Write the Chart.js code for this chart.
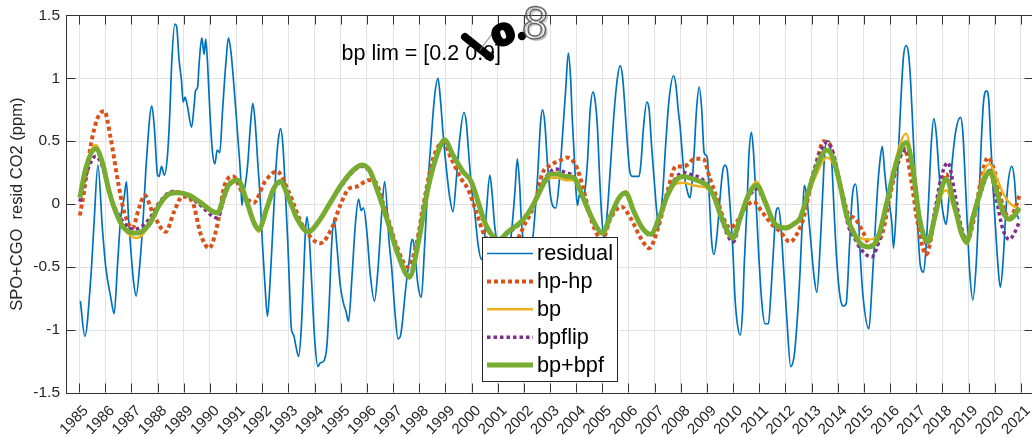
<!DOCTYPE html>
<html><head><meta charset="utf-8">
<script src="https://cdn.jsdelivr.net/npm/chart.js@4.4.0/dist/chart.umd.min.js"></script>
<style>
html,body{margin:0;padding:0;overflow:hidden;background:#fff;width:1032px;height:437px}
#wrap{position:absolute;left:0;top:0;width:1045px;height:437px}
</style>
</head><body><div id="wrap"><canvas id="c" width="1045" height="437"></canvas></div>
<script>
const seriesNames = ['residual', 'hp-hp', 'bp', 'bpflip', 'bp+bpf'];
const yearTicks = [1985,1986,1987,1988,1989,1990,1991,1992,1993,1994,1995,1996,1997,1998,1999,2000,2001,2002,2003,2004,2005,2006,2007,2008,2009,2010,2011,2012,2013,2014,2015,2016,2017,2018,2019,2020,2021];
const yTicks = [-1.5, -1, -0.5, 0, 0.5, 1, 1.5];
const annotationText = 'bp lim = [0.2 0.9]';
const yTitle = 'SPO+CGO  resid CO2 (ppm)';

const resYears = [1985.05,1985.22,1985.45,1985.57,1985.72,1985.89,1986.02,1986.21,1986.34,1986.47,1986.59,1986.72,1986.81,1986.89,1986.98,1987.08,1987.18,1987.32,1987.45,1987.57,1987.78,1987.88,1988.00,1988.06,1988.15,1988.26,1988.38,1988.47,1988.54,1988.66,1988.73,1988.82,1988.91,1988.98,1989.05,1989.14,1989.30,1989.40,1989.45,1989.53,1989.59,1989.69,1989.78,1989.84,1989.91,1990.00,1990.10,1990.19,1990.28,1990.38,1990.48,1990.61,1990.71,1990.81,1990.90,1990.99,1991.09,1991.18,1991.22,1991.29,1991.35,1991.45,1991.54,1991.64,1991.73,1991.83,1991.92,1992.01,1992.11,1992.20,1992.31,1992.40,1992.47,1992.56,1992.62,1992.70,1992.79,1992.88,1992.97,1993.04,1993.11,1993.20,1993.29,1993.39,1993.49,1993.58,1993.65,1993.71,1993.80,1993.90,1994.00,1994.13,1994.22,1994.34,1994.47,1994.56,1994.66,1994.75,1994.85,1994.98,1995.11,1995.20,1995.30,1995.43,1995.56,1995.68,1995.78,1995.87,1996.00,1996.13,1996.29,1996.42,1996.57,1996.68,1996.85,1996.95,1997.07,1997.19,1997.30,1997.50,1997.63,1997.70,1997.75,1997.83,1997.95,1998.08,1998.21,1998.33,1998.46,1998.59,1998.72,1998.82,1998.91,1999.04,1999.17,1999.29,1999.42,1999.55,1999.71,1999.80,1999.89,1999.99,2000.12,2000.25,2000.38,2000.48,2000.57,2000.70,2000.78,2000.88,2000.95,2001.15,2001.35,2001.53,2001.66,2001.75,2001.84,2001.90,2002.10,2002.30,2002.52,2002.64,2002.71,2002.80,2002.90,2003.03,2003.22,2003.34,2003.47,2003.60,2003.70,2003.79,2003.85,2003.92,2003.98,2004.05,2004.13,2004.20,2004.30,2004.43,2004.53,2004.64,2004.72,2004.81,2004.90,2004.98,2005.07,2005.19,2005.32,2005.45,2005.57,2005.68,2005.77,2005.86,2005.96,2006.05,2006.15,2006.28,2006.40,2006.47,2006.57,2006.70,2006.79,2006.88,2006.98,2007.08,2007.15,2007.30,2007.42,2007.55,2007.72,2007.81,2007.90,2007.97,2008.12,2008.25,2008.35,2008.44,2008.51,2008.60,2008.70,2008.80,2008.89,2008.95,2009.02,2009.09,2009.18,2009.27,2009.37,2009.50,2009.60,2009.69,2009.78,2009.88,2009.99,2010.07,2010.16,2010.27,2010.36,2010.43,2010.52,2010.61,2010.70,2010.78,2010.87,2010.97,2011.10,2011.22,2011.35,2011.44,2011.54,2011.64,2011.73,2011.82,2011.92,2012.05,2012.20,2012.33,2012.43,2012.56,2012.66,2012.72,2012.80,2012.95,2013.08,2013.20,2013.33,2013.42,2013.50,2013.58,2013.67,2013.77,2013.86,2013.96,2014.09,2014.22,2014.32,2014.45,2014.55,2014.68,2014.77,2014.85,2014.96,2015.19,2015.31,2015.44,2015.53,2015.62,2015.70,2015.79,2015.87,2015.98,2016.07,2016.13,2016.23,2016.33,2016.42,2016.51,2016.61,2016.70,2016.78,2016.87,2016.96,2017.06,2017.15,2017.28,2017.38,2017.48,2017.57,2017.67,2017.76,2017.86,2017.95,2018.04,2018.14,2018.25,2018.37,2018.50,2018.69,2018.78,2018.87,2018.95,2019.04,2019.16,2019.29,2019.39,2019.48,2019.57,2019.68,2019.77,2019.84,2019.93,2020.03,2020.12,2020.21,2020.31,2020.41,2020.50,2020.65,2020.75,2020.84,2020.92];
const resVals = [-0.77,-1.05,-0.58,-0.16,0.31,-0.19,-0.50,-0.74,-0.87,-0.48,-0.11,0.05,0.18,-0.11,-0.37,-0.61,-0.73,-0.48,-0.11,0.33,0.78,0.60,0.23,0.22,0.30,0.23,0.39,0.73,1.12,1.43,1.41,1.15,0.99,0.81,0.85,0.78,0.61,0.79,0.90,0.93,1.12,1.32,1.19,1.31,1.12,0.73,0.41,0.32,0.43,0.41,0.73,1.12,1.32,1.20,0.99,0.75,0.47,0.20,-0.01,0.10,0.15,0.33,0.60,0.80,0.65,0.33,0.05,-0.32,-0.66,-0.89,-0.58,-0.22,0.07,0.39,0.52,0.60,0.47,0.12,-0.27,-0.64,-0.98,-1.04,-1.13,-1.21,-1.00,-0.58,-0.22,-0.10,-0.27,-0.66,-1.06,-1.29,-1.26,-1.25,-1.13,-0.79,-0.30,-0.12,-0.32,-0.64,-0.79,-0.85,-0.93,-0.58,-0.16,0.04,-0.05,-0.03,-0.22,-0.56,-0.77,-0.53,-0.06,0.18,-0.30,-0.51,-0.85,-1.07,-1.03,-0.64,-0.43,-0.30,-0.28,-0.37,-0.64,-0.74,-0.32,0.15,0.52,0.86,1.00,0.81,0.57,0.28,0.05,-0.06,0.20,0.52,0.73,0.65,0.41,0.15,-0.06,-0.32,-0.44,-0.32,-0.06,0.23,0.10,-0.16,-0.27,-0.55,-0.50,-0.22,0.10,0.36,0.15,-0.11,-0.45,-0.35,0.20,0.65,0.75,0.65,0.33,0.05,-0.03,0.15,0.52,0.91,1.20,0.99,0.68,0.41,0.15,-0.01,0.08,0.05,0.07,0.33,0.73,0.89,0.83,0.62,0.20,-0.11,-0.27,-0.06,0.33,0.73,0.99,1.10,1.02,0.78,0.47,0.26,0.22,0.22,0.22,0.31,0.60,0.81,0.75,0.47,0.20,-0.06,-0.18,0.07,0.47,0.83,1.02,0.95,0.75,0.62,0.25,0.10,0.05,0.20,0.41,0.75,0.93,0.75,0.41,0.39,0.36,0.05,-0.30,-0.40,-0.27,0.05,0.26,0.31,0.26,-0.01,-0.37,-0.74,-0.95,-1.04,-0.85,-0.45,-0.06,0.41,0.57,0.41,0.05,-0.37,-0.79,-0.95,-0.95,-0.72,-0.37,-0.06,-0.03,-0.16,-0.48,-0.90,-1.29,-1.21,-0.98,-0.53,-0.06,0.15,0.08,-0.25,-0.55,-0.70,-0.32,0.07,0.41,0.50,0.50,0.33,-0.06,-0.45,-0.74,-0.81,-0.79,-0.32,0.05,0.16,-0.01,-0.37,-0.72,-0.99,-0.64,-0.16,0.15,0.36,0.46,0.26,0.10,-0.01,-0.16,-0.35,-0.06,0.47,0.86,1.17,1.26,1.20,0.99,0.60,0.20,-0.19,-0.48,-0.54,-0.32,0.07,0.47,0.68,0.57,0.28,0.05,-0.09,-0.16,0.05,0.33,0.57,0.69,0.57,0.20,-0.16,-0.53,-0.76,-0.48,-0.01,0.47,0.81,0.90,0.83,0.52,0.15,-0.19,-0.48,-0.66,-0.48,-0.11,0.15,0.30,0.20,-0.06,-0.12];

const hpYears = [1985.03,1985.19,1985.45,1985.70,1985.96,1986.21,1986.47,1986.72,1987.04,1987.29,1987.51,1987.80,1988.31,1988.63,1988.95,1989.33,1989.65,1989.97,1990.29,1990.55,1990.90,1991.22,1991.67,1992.11,1992.56,1993.01,1993.52,1994.22,1994.66,1994.98,1995.30,1995.62,1996.07,1996.35,1996.60,1996.80,1997.12,1997.57,1997.89,1998.21,1998.53,1998.91,1999.23,1999.61,1999.86,2000.18,2000.44,2000.75,2001.10,2001.50,2001.78,2002.03,2002.29,2002.54,2002.70,2003.03,2003.41,2003.66,2003.98,2004.24,2004.49,2004.75,2005.00,2005.32,2005.73,2006.08,2006.47,2006.79,2007.17,2007.49,2007.81,2008.12,2008.55,2008.85,2009.12,2009.37,2009.63,2009.88,2010.14,2010.46,2010.78,2011.10,2011.48,2011.80,2012.18,2012.43,2012.69,2012.94,2013.26,2013.45,2013.71,2013.96,2014.22,2014.40,2014.64,2014.96,2015.21,2015.40,2015.72,2015.98,2016.23,2016.55,2016.80,2017.06,2017.38,2017.70,2017.96,2018.14,2018.40,2018.72,2018.93,2019.23,2019.48,2019.74,2019.99,2020.31,2020.56,2020.82,2020.94];
const hpVals = [-0.09,0.10,0.47,0.68,0.74,0.52,0.20,-0.06,-0.19,-0.03,0.07,-0.06,-0.22,-0.06,0.06,0.02,-0.24,-0.35,-0.16,0.14,0.22,0.10,0.01,0.18,0.26,0.10,-0.16,-0.31,-0.19,-0.01,0.12,0.14,0.19,0.17,0.02,-0.11,-0.32,-0.50,-0.32,0.05,0.36,0.49,0.36,0.20,0.12,-0.06,-0.22,-0.33,-0.35,-0.32,-0.27,-0.16,-0.06,0.10,0.24,0.31,0.35,0.37,0.31,0.15,-0.06,-0.22,-0.28,-0.11,-0.02,-0.11,-0.27,-0.35,-0.16,0.10,0.30,0.30,0.36,0.36,0.20,0.05,-0.11,-0.19,-0.14,-0.03,0.02,-0.06,-0.16,-0.22,-0.30,-0.24,-0.11,0.12,0.39,0.50,0.47,0.26,0.05,-0.08,-0.11,-0.22,-0.32,-0.33,-0.22,0.05,0.28,0.44,0.20,-0.16,-0.40,-0.11,0.15,0.24,0.05,-0.19,-0.30,-0.09,0.20,0.37,0.26,-0.01,-0.11,-0.01,0.07];

const bpYears = [1985.03,1985.25,1985.64,1985.89,1986.15,1986.40,1986.72,1987.20,1987.68,1988.06,1988.44,1988.76,1989.21,1989.59,1990.29,1990.55,1990.71,1991.07,1991.41,1991.67,1991.86,1992.18,1992.43,1992.69,1993.01,1993.32,1993.77,1994.15,1994.54,1994.98,1995.43,1995.81,1996.13,1996.38,1996.80,1997.19,1997.63,1997.95,1998.33,1998.71,1998.97,1999.29,1999.67,1999.99,2000.25,2000.50,2000.80,2001.05,2001.39,2001.78,2002.03,2002.29,2002.54,2002.75,2003.03,2003.28,2003.60,2003.92,2004.17,2004.49,2004.81,2005.00,2005.32,2005.64,2005.89,2006.21,2006.53,2006.85,2007.17,2007.49,2007.81,2008.12,2008.45,2008.74,2008.99,2009.25,2009.56,2009.82,2009.99,2010.27,2010.58,2010.90,2011.22,2011.54,2011.99,2012.30,2012.56,2012.81,2013.13,2013.58,2013.83,2014.09,2014.40,2014.64,2014.89,2015.10,2015.21,2015.53,2015.85,2016.17,2016.42,2016.61,2016.87,2017.12,2017.44,2017.70,2017.96,2018.14,2018.46,2018.71,2018.93,2019.16,2019.41,2019.61,2019.80,2020.05,2020.31,2020.56,2020.75,2020.94];
const bpVals = [0.06,0.30,0.47,0.34,0.10,-0.07,-0.20,-0.27,-0.17,-0.01,0.09,0.10,0.08,0.03,-0.06,0.07,0.15,0.19,0.01,-0.15,-0.22,-0.04,0.12,0.18,0.05,-0.11,-0.22,-0.14,-0.01,0.14,0.26,0.31,0.26,0.12,-0.14,-0.40,-0.58,-0.32,0.12,0.41,0.51,0.39,0.26,0.18,0.02,-0.14,-0.25,-0.28,-0.22,-0.16,-0.11,-0.03,0.07,0.15,0.21,0.21,0.19,0.19,0.09,-0.06,-0.19,-0.23,-0.09,0.05,0.10,-0.05,-0.19,-0.24,-0.11,0.06,0.16,0.17,0.15,0.14,0.13,0.06,-0.11,-0.22,-0.25,-0.09,0.09,0.18,0.04,-0.13,-0.18,-0.16,-0.10,0.04,0.21,0.37,0.32,0.14,-0.14,-0.24,-0.27,-0.28,-0.28,-0.24,0.01,0.31,0.50,0.56,0.30,-0.10,-0.31,-0.12,0.07,0.11,-0.06,-0.24,-0.32,-0.12,0.10,0.27,0.32,0.22,0.09,0.01,-0.02,-0.03];

const flipYears = [1985.03,1985.25,1985.64,1985.89,1986.15,1986.40,1986.72,1987.10,1987.68,1988.06,1988.57,1989.21,1989.59,1990.29,1990.55,1990.71,1991.07,1991.41,1991.67,1991.86,1992.18,1992.43,1992.69,1993.01,1993.32,1993.77,1994.15,1994.54,1994.98,1995.43,1995.81,1996.13,1996.38,1996.80,1997.19,1997.63,1997.95,1998.33,1998.71,1998.97,1999.29,1999.67,1999.99,2000.25,2000.50,2000.80,2001.05,2001.39,2001.78,2002.03,2002.29,2002.54,2002.75,2003.03,2003.22,2003.60,2003.92,2004.17,2004.49,2004.81,2005.00,2005.32,2005.64,2005.89,2006.21,2006.53,2006.85,2007.17,2007.49,2007.81,2008.12,2008.45,2008.74,2008.99,2009.25,2009.56,2009.82,2010.01,2010.27,2010.58,2010.90,2011.22,2011.54,2011.99,2012.30,2012.56,2012.81,2013.13,2013.58,2013.83,2014.09,2014.40,2014.64,2014.89,2015.30,2015.53,2015.85,2016.17,2016.42,2016.61,2016.87,2017.12,2017.44,2017.70,2017.96,2018.21,2018.46,2018.71,2018.91,2019.16,2019.41,2019.61,2019.80,2020.05,2020.31,2020.56,2020.75,2020.94];
const flipVals = [0.02,0.22,0.38,0.30,0.10,-0.04,-0.15,-0.20,-0.12,0.01,0.10,0.06,0.00,-0.11,0.05,0.14,0.18,0.02,-0.14,-0.19,-0.03,0.12,0.17,0.05,-0.11,-0.21,-0.14,-0.01,0.13,0.25,0.30,0.25,0.12,-0.14,-0.40,-0.57,-0.32,0.12,0.41,0.50,0.39,0.26,0.17,0.01,-0.15,-0.26,-0.29,-0.23,-0.17,-0.11,-0.03,0.08,0.18,0.26,0.28,0.25,0.22,0.11,-0.05,-0.19,-0.23,-0.09,0.05,0.08,-0.06,-0.19,-0.25,-0.11,0.08,0.21,0.25,0.23,0.21,0.16,0.07,-0.12,-0.26,-0.30,-0.12,0.05,0.12,0.01,-0.14,-0.19,-0.16,-0.11,0.06,0.29,0.49,0.40,0.16,-0.17,-0.27,-0.36,-0.42,-0.32,-0.03,0.24,0.39,0.43,0.24,-0.12,-0.32,-0.06,0.22,0.33,0.10,-0.18,-0.28,-0.10,0.05,0.18,0.27,0.05,-0.20,-0.28,-0.23,-0.14];

const bbYears = [1985.03,1985.25,1985.64,1985.89,1986.15,1986.40,1986.72,1987.23,1987.68,1988.06,1988.44,1988.76,1989.21,1989.59,1990.29,1990.55,1990.71,1991.07,1991.41,1991.67,1991.86,1992.18,1992.43,1992.69,1993.01,1993.32,1993.77,1994.15,1994.54,1994.98,1995.43,1995.81,1996.13,1996.38,1996.80,1997.19,1997.63,1997.95,1998.33,1998.71,1998.97,1999.29,1999.67,1999.99,2000.25,2000.50,2000.80,2001.05,2001.39,2001.78,2002.03,2002.29,2002.54,2002.75,2003.03,2003.28,2003.60,2003.92,2004.17,2004.49,2004.81,2005.00,2005.32,2005.64,2005.89,2006.21,2006.53,2006.85,2007.17,2007.49,2007.81,2008.12,2008.45,2008.74,2008.99,2009.25,2009.56,2009.82,2009.99,2010.27,2010.58,2010.90,2011.22,2011.54,2011.99,2012.30,2012.56,2012.81,2013.13,2013.58,2013.83,2014.09,2014.35,2014.64,2014.89,2015.21,2015.53,2015.85,2016.17,2016.42,2016.61,2016.87,2017.12,2017.44,2017.70,2017.96,2018.14,2018.46,2018.71,2018.93,2019.16,2019.41,2019.61,2019.80,2020.05,2020.31,2020.56,2020.75,2020.94];
const bbVals = [0.05,0.28,0.44,0.33,0.10,-0.06,-0.19,-0.23,-0.16,-0.01,0.08,0.09,0.07,0.02,-0.07,0.07,0.15,0.19,0.02,-0.14,-0.20,-0.03,0.12,0.18,0.05,-0.11,-0.22,-0.14,-0.01,0.14,0.26,0.31,0.26,0.12,-0.14,-0.40,-0.58,-0.32,0.12,0.41,0.51,0.39,0.26,0.18,0.02,-0.14,-0.25,-0.28,-0.22,-0.16,-0.11,-0.03,0.07,0.16,0.24,0.24,0.22,0.21,0.10,-0.06,-0.19,-0.23,-0.09,0.05,0.09,-0.06,-0.19,-0.24,-0.11,0.07,0.19,0.22,0.20,0.18,0.15,0.07,-0.11,-0.23,-0.27,-0.11,0.07,0.15,0.02,-0.14,-0.19,-0.16,-0.11,0.05,0.26,0.43,0.36,0.15,-0.10,-0.24,-0.32,-0.34,-0.27,-0.01,0.28,0.44,0.49,0.28,-0.11,-0.30,-0.11,0.12,0.20,-0.01,-0.22,-0.30,-0.11,0.07,0.20,0.26,0.12,-0.06,-0.12,-0.09,-0.03];

const FONT = '"Liberation Sans", Arial, Helvetica, sans-serif';
const toXY = (xs, ys) => xs.map((x, i) => ({ x: x, y: ys[i] }));

const framePlugin = {
  id: 'frame',
  beforeDatasetsDraw(chart) {
    const ctx = chart.ctx, a = chart.chartArea;
    const xs = chart.scales.x, ys = chart.scales.y;
    const L = 9;
    ctx.save();
    ctx.strokeStyle = '#333';
    ctx.lineWidth = 1;
    ctx.beginPath();
    const top = Math.round(a.top) + 0.5, bot = Math.round(a.bottom) - 0.5;
    const left = Math.round(a.left) + 0.5, right = Math.round(a.right) - 0.5;
    ctx.moveTo(left, top); ctx.lineTo(right, top); ctx.lineTo(right, bot);
    yearTicks.forEach(v => {
      const px = Math.round(xs.getPixelForValue(v)) + 0.5;
      ctx.moveTo(px, bot); ctx.lineTo(px, bot - L);
      ctx.moveTo(px, top); ctx.lineTo(px, top + L);
    });
    yTicks.forEach(v => {
      const py = Math.round(ys.getPixelForValue(v)) + 0.5;
      ctx.moveTo(left, py); ctx.lineTo(left + L, py);
      ctx.moveTo(right, py); ctx.lineTo(right - L, py);
    });
    ctx.stroke();
    ctx.restore();
  },
  afterDatasetsDraw(chart) {
    const ctx = chart.ctx;
    const bx = 482.5, by = 237.5, bw = 135, bh = 144;
    ctx.save();
    ctx.fillStyle = '#fff';
    ctx.fillRect(bx, by, bw, bh);
    ctx.strokeStyle = '#262626';
    ctx.lineWidth = 1;
    ctx.strokeRect(bx, by, bw, bh);
    chart.data.datasets.forEach((ds, i) => {
      const y = 253.5 + i * 27.9;
      ctx.strokeStyle = ds.borderColor;
      ctx.lineWidth = ds.borderWidth;
      ctx.setLineDash(ds.borderDash || []);
      ctx.beginPath();
      ctx.moveTo(487, y); ctx.lineTo(533, y);
      ctx.stroke();
      ctx.setLineDash([]);
      ctx.fillStyle = '#000';
      ctx.font = '21.7px ' + FONT;
      ctx.textBaseline = 'middle';
      ctx.textAlign = 'left';
      ctx.fillText(ds.label, 537, y + 1);
    });
    ctx.restore();
  },
  afterDraw(chart) {
    const ctx = chart.ctx;
    ctx.save();
    ctx.fillStyle = '#000';
    ctx.font = '21.5px ' + FONT;
    ctx.textBaseline = 'alphabetic';
    ctx.textAlign = 'left';
    ctx.fillText(annotationText, 341.5, 60);
    ctx.strokeStyle = '#000';
    ctx.lineCap = 'round';
    ctx.lineWidth = 8;
    ctx.beginPath();
    ctx.moveTo(465, 37); ctx.lineTo(490, 57);
    ctx.stroke();
    ctx.strokeStyle = 'rgba(120,120,120,0.8)';
    ctx.lineWidth = 1.2;
    ctx.beginPath();
    ctx.moveTo(495, 30); ctx.lineTo(480, 50);
    ctx.stroke();
    ctx.save();
    ctx.translate(503, 34);
    ctx.rotate(-0.4);
    ctx.fillStyle = '#000';
    ctx.strokeStyle = '#000';
    ctx.lineWidth = 4;
    ctx.lineJoin = 'round';
    ctx.font = 'bold 36px ' + FONT;
    ctx.textAlign = 'center';
    ctx.textBaseline = 'middle';
    ctx.strokeText('o', 0, 0);
    ctx.fillText('o', 0, 0);
    ctx.restore();
    ctx.beginPath();
    ctx.fillStyle = '#000';
    ctx.arc(522, 36, 4.2, 0, Math.PI * 2);
    ctx.fill();
    ctx.save();
    ctx.translate(535, 26);
    ctx.rotate(0.08);
    ctx.font = '46px ' + FONT;
    ctx.textAlign = 'center';
    ctx.textBaseline = 'middle';
    ctx.strokeStyle = 'rgba(60,60,60,0.8)';
    ctx.lineWidth = 1.5;
    ctx.strokeText('8', 0, 0);
    ctx.strokeStyle = 'rgba(130,130,130,0.6)';
    ctx.lineWidth = 1;
    ctx.strokeText('8', 1.5, 1);
    ctx.restore();
    ctx.restore();
  }
};

new Chart(document.getElementById('c').getContext('2d'), {
  type: 'line',
  data: {
    datasets: [
      { label: seriesNames[0], data: toXY(resYears, resVals), borderColor: '#0072BD', borderWidth: 1.7, order: 5 },
      { label: seriesNames[1], data: toXY(hpYears, hpVals), borderColor: '#D95319', borderWidth: 4, borderDash: [4, 3], order: 4 },
      { label: seriesNames[2], data: toXY(bpYears, bpVals), borderColor: '#EDB120', borderWidth: 2.4, order: 3 },
      { label: seriesNames[3], data: toXY(flipYears, flipVals), borderColor: '#7E2F8E', borderWidth: 3.5, borderDash: [3.5, 3], order: 2 },
      { label: seriesNames[4], data: toXY(bbYears, bbVals), borderColor: '#77AC30', borderWidth: 5, order: 1 }
    ]
  },
  options: {
    responsive: false,
    animation: false,
    devicePixelRatio: 1,
    layout: { padding: { top: 12, right: 11, left: 0, bottom: 0 } },
    elements: {
      point: { radius: 0, hoverRadius: 0 },
      line: { cubicInterpolationMode: 'monotone', fill: false, borderCapStyle: 'butt', borderJoinStyle: 'round' }
    },
    plugins: { legend: { display: false }, tooltip: { enabled: false } },
    events: [],
    scales: {
      x: {
        type: 'linear', min: 1984.5, max: 2021.5,
        afterBuildTicks: s => { s.ticks = yearTicks.map(v => ({ value: v })); },
        afterFit: s => { s.height = 44; },
        grid: { color: '#e2e2e2', lineWidth: 1, drawTicks: false },
        border: { display: true, color: '#333', width: 1 },
        ticks: { autoSkip: false, maxRotation: 45, minRotation: 45, padding: 9, labelOffset: 7, color: '#262626',
          font: { family: FONT, size: 15 }, callback: v => String(v) }
      },
      y: {
        min: -1.5, max: 1.5,
        afterBuildTicks: s => { s.ticks = yTicks.map(v => ({ value: v })); },
        afterFit: s => { s.width = 66; },
        grid: { color: '#e2e2e2', lineWidth: 1, drawTicks: false },
        border: { display: true, color: '#333', width: 1 },
        ticks: { padding: 6, color: '#262626', font: { family: FONT, size: 15.5 }, callback: v => String(v) },
        title: { display: true, text: yTitle, color: '#262626', font: { family: FONT, size: 16.5 }, padding: { top: 8, bottom: 0 } }
      }
    }
  },
  plugins: [framePlugin]
});
</script>
</body></html>
